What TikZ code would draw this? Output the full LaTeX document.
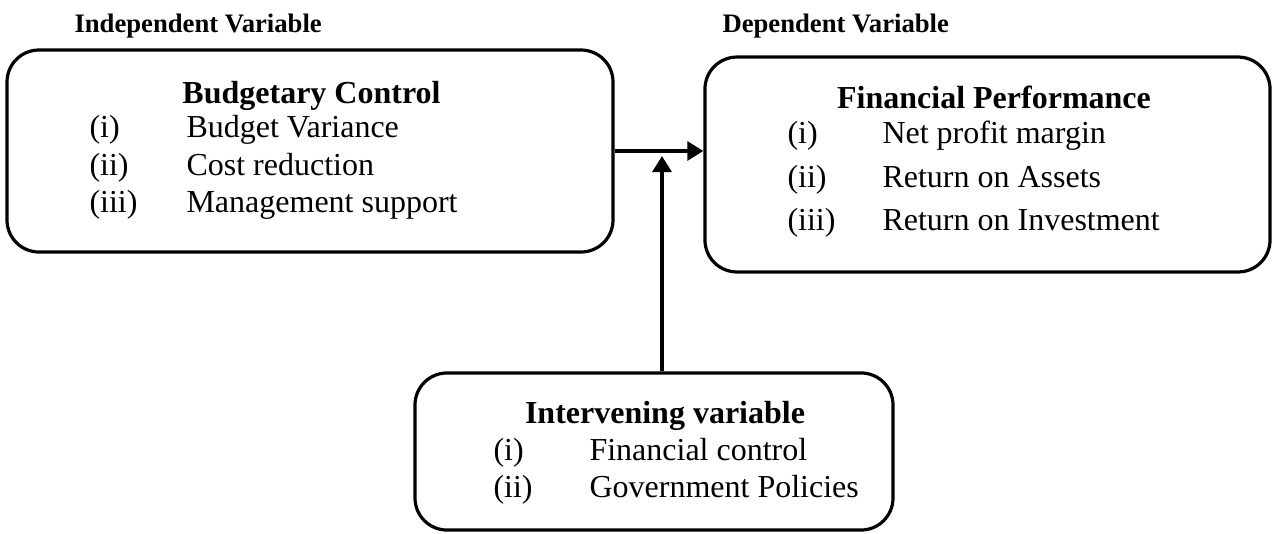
\documentclass[tikz,border=0pt]{standalone}
\usepackage{fontspec}
\setmainfont{Liberation Serif}
\usetikzlibrary{arrows.meta}

\begin{document}
\begin{tikzpicture}[x=0.375pt,y=-0.375pt,
    box/.style={draw,line width=1.2pt,rounded corners=12pt,inner sep=0pt},
    head/.style={font=\bfseries\fontsize{12}{14}\selectfont,anchor=base,inner sep=0pt},
    item/.style={font=\fontsize{12}{14}\selectfont,anchor=base west,inner sep=0pt},
    lab/.style={font=\bfseries\fontsize{10}{12}\selectfont,anchor=base west,inner sep=0pt},
    arr/.style={line width=1.6pt,-{Triangle[length=6pt,width=7pt]}}]
  \useasboundingbox (0,0) rectangle (1272,533);

  % variable labels
  \node[lab] (indep) at (74,32) {Independent Variable};
  \node[lab] (dep) at (722,32) {Dependent Variable};

  % boxes
  \node[box,minimum width=227.25pt,minimum height=75.75pt] (bc) at (310,151) {};
  \node[box,minimum width=211.9pt,minimum height=80.6pt] (fp) at (987.5,164.5) {};
  \node[box,minimum width=179.25pt,minimum height=58.9pt] (iv) at (654,451.5) {};

  % Budgetary Control
  \node[head] (bchead) at (311.5,103) {Budgetary Control};
  \node[item] (bcn1) at (89,137) {(i)};
  \node[item] (bcn2) at (89,175) {(ii)};
  \node[item] (bcn3) at (89,212) {(iii)};
  \node[item] (bct1) at (186,137) {Budget Variance};
  \node[item] (bct2) at (186,175) {Cost reduction};
  \node[item] (bct3) at (186,212) {Management support};

  % Financial Performance
  \node[head] (fphead) at (994,108) {Financial Performance};
  \node[item] (fpn1) at (787,143) {(i)};
  \node[item] (fpn2) at (787,187) {(ii)};
  \node[item] (fpn3) at (787,230) {(iii)};
  \node[item] (fpt1) at (882,143) {Net profit margin};
  \node[item] (fpt2) at (882,187) {Return on Assets};
  \node[item] (fpt3) at (882,230) {Return on Investment};

  % Intervening variable
  \node[head] (ivhead) at (665,423) {Intervening variable};
  \node[item] (ivn1) at (493,460) {(i)};
  \node[item] (ivn2) at (493,497) {(ii)};
  \node[item] (ivt1) at (589,460) {Financial control};
  \node[item] (ivt2) at (589,497) {Government Policies};

  \coordinate (meet) at (662,156);
  \draw[arr] (bc.east) -- (bc.east -| fp.west);
  \draw[arr] (iv.north -| meet) -- (meet);
\end{tikzpicture}
\end{document}
